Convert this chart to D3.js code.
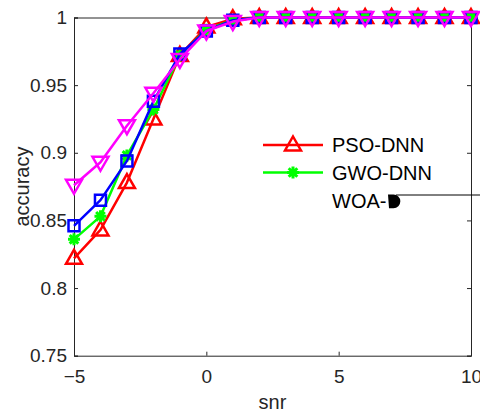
<!DOCTYPE html>
<html>
<head>
<meta charset="utf-8">
<script src="https://cdn.jsdelivr.net/npm/d3@7"></script>
<style>
  body { margin: 0; background: #fff; }
  svg { display: block; font-family: "Liberation Sans", Arial, sans-serif; }
</style>
</head>
<body>
<svg id="chart" width="480" height="415"></svg>
<script>
// snr values on the x axis
const snr = [-5, -4, -3, -2, -1, 0, 1, 2, 3, 4, 5, 6, 7, 8, 9, 10];

// accuracy of each method
const psoDnn = [0.822, 0.843, 0.878, 0.925, 0.972, 0.993, 0.999, 1, 1, 1, 1, 1, 1, 1, 1, 1];
const gwoDnn = [0.836, 0.853, 0.898, 0.932, 0.972, 0.991, 0.998, 1, 1, 1, 1, 1, 1, 1, 1, 1];
const woaDnn = [0.846, 0.865, 0.894, 0.938, 0.973, 0.990, 0.998, 1, 1, 1, 1, 1, 1, 1, 1, 1];
const otherDnn = [0.876, 0.893, 0.920, 0.944, 0.969, 0.990, 0.997, 1, 1, 1, 1, 1, 1, 1, 1, 1];

const xTicks = [-5, 0, 5, 10];
const yTicks = [0.75, 0.8, 0.85, 0.9, 0.95, 1];

const svg = d3.select("#chart");
const margin = { left: 74, right: 9, top: 17.5, bottom: 59.3 };
const width = 480, height = 415;
const axisColor = "#262626";

const x = d3.scaleLinear().domain([-5, 10]).range([margin.left, width - margin.right]);
const y = d3.scaleLinear().domain([0.75, 1]).range([height - margin.bottom, margin.top]);

// axes (MATLAB style: ticks pointing inward, box around)
const fmt = d => d3.format("")(d);
const gx = svg.append("g")
    .attr("transform", `translate(0,${y(0.75)})`)
    .call(d3.axisBottom(x).tickValues(xTicks).tickSize(-4).tickPadding(14).tickFormat(fmt));
const gy = svg.append("g")
    .attr("transform", `translate(${x(-5)},0)`)
    .call(d3.axisLeft(y).tickValues(yTicks).tickSize(-4).tickPadding(7).tickFormat(fmt));
const gt = svg.append("g")
    .attr("transform", `translate(0,${y(1)})`)
    .call(d3.axisTop(x).tickValues(xTicks).tickSize(-4).tickFormat(""));
const gr = svg.append("g")
    .attr("transform", `translate(${x(10)},0)`)
    .call(d3.axisRight(y).tickValues(yTicks).tickSize(-4).tickFormat(""));

[gx, gy, gt, gr].forEach(g => {
    g.select(".domain").attr("stroke", axisColor).attr("stroke-width", 1);
    g.selectAll(".tick line").attr("stroke", axisColor);
    g.selectAll(".tick text")
        .attr("fill", axisColor)
        .attr("font-size", "19px")
        .attr("font-family", "Liberation Sans, Arial, sans-serif");
});

// axis titles
svg.append("text")
    .attr("x", (x(-5) + x(10)) / 2)
    .attr("y", 409)
    .attr("text-anchor", "middle")
    .attr("font-size", "20px")
    .attr("fill", axisColor)
    .text("snr");

svg.append("text")
    .attr("transform", `translate(29,${(y(0.75) + y(1)) / 2}) rotate(-90)`)
    .attr("text-anchor", "middle")
    .attr("font-size", "20px")
    .attr("fill", axisColor)
    .text("accuracy");

// marker shapes
function markerPath(kind) {
    if (kind === "up") return "M0,-8.5L8,5.5L-8,5.5Z";
    if (kind === "down") return "M0,8.5L8,-5.5L-8,-5.5Z";
    if (kind === "square") return "M-5.5,-5.5H5.5V5.5H-5.5Z";
    if (kind === "star") return "M-6,0H6M0,-6V6M-4.3,-4.3L4.3,4.3M-4.3,4.3L4.3,-4.3";
}

const series = [
    { name: "PSO-DNN", values: psoDnn, color: "#ff0000", marker: "up" },
    { name: "GWO-DNN", values: gwoDnn, color: "#00ff00", marker: "star" },
    { name: "WOA-DNN", values: woaDnn, color: "#0000ff", marker: "square" },
    { name: "other", values: otherDnn, color: "#ff00ff", marker: "down" }
];

const line = d3.line().x(d => x(d[0])).y(d => y(d[1]));

series.forEach(s => {
    const pts = snr.map((v, i) => [v, s.values[i]]);
    const g = svg.append("g");
    g.append("path")
        .attr("d", line(pts))
        .attr("fill", "none")
        .attr("stroke", s.color)
        .attr("stroke-width", 2.5)
        .attr("stroke-linejoin", "round");
    g.selectAll("path.mk")
        .data(pts)
        .join("path")
        .attr("class", "mk")
        .attr("transform", d => `translate(${x(d[0])},${y(d[1])})`)
        .attr("d", markerPath(s.marker))
        .attr("fill", "none")
        .attr("stroke", s.color)
        .attr("stroke-width", s.marker === "star" ? 3 : 2.5);
});

// legend (partly broken in the original rendering)
const legend = svg.append("g").attr("font-size", "20px").attr("fill", "#000");
const legendRows = [
    { s: series[0], y: 145 },
    { s: series[1], y: 172.5 }
];
legendRows.forEach(r => {
    legend.append("line")
        .attr("x1", 263).attr("x2", 323)
        .attr("y1", r.y).attr("y2", r.y)
        .attr("stroke", r.s.color).attr("stroke-width", 2.5);
    legend.append("path")
        .attr("transform", `translate(293,${r.y})`)
        .attr("d", markerPath(r.s.marker))
        .attr("fill", "none")
        .attr("stroke", r.s.color)
        .attr("stroke-width", r.s.marker === "star" ? 3 : 2.5);
    legend.append("text")
        .attr("x", 332).attr("y", r.y + 7.2)
        .text(r.s.name);
});
legend.append("text").attr("x", 332).attr("y", 208).text("WOA-");
legend.append("path")
    .attr("d", "M388,194.5H393.5A6.8,6.8 0 0 1 393.5,208.2H389Z")
    .attr("fill", "#000");
legend.append("line")
    .attr("x1", 396).attr("x2", 480)
    .attr("y1", 195).attr("y2", 195)
    .attr("stroke", "#000").attr("stroke-width", 1);
</script>
</body>
</html>
